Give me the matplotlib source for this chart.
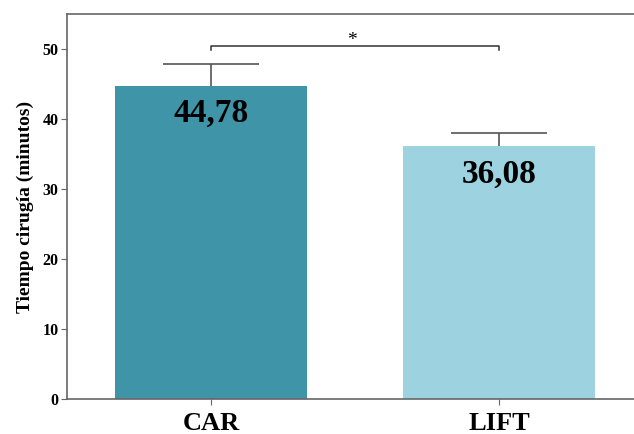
import matplotlib.pyplot as plt

# tiempo quirúrgico medio por técnica
grupos = ["CAR", "LIFT"]
medias = [44.78, 36.08]
errores = [3.08, 1.92]
etiquetas = ["44,78", "36,08"]
colores = ["#3f94a8", "#9dd3e0"]

plt.rcParams["font.family"] = ["Liberation Serif", "DejaVu Serif"]
plt.rcParams["font.weight"] = "bold"

fig = plt.figure(figsize=(6.34, 4.34), dpi=100)
ax = fig.add_axes([0.1057, 0.0806, 0.9085, 0.887])

x = list(range(len(grupos)))
ax.bar(x, medias, width=0.667, color=colores, zorder=2)

# error estándar solo hacia arriba
tops = [m + e for m, e in zip(medias, errores)]
ax.vlines(x, medias, tops, color="#555555", lw=1.2, zorder=1)
for i, t in zip(x, tops):
    ax.hlines(t, i - 0.165, i + 0.165, color="#555555", lw=1.2, zorder=1)

for i, (m, t) in enumerate(zip(medias, etiquetas)):
    ax.text(i, m - 3.9, t, ha="center", va="center", fontsize=24,
            fontweight="bold", color="black", zorder=3)

# barra de significación
ax.plot([0, 0, 1, 1], [49.9, 50.5, 50.5, 49.9], color="#333333", lw=1.1)
ax.text(0.49, 50.0, "*", ha="center", va="bottom", fontsize=14,
        fontweight="normal")

ax.set_xlim(-0.5, 1.5)
ax.set_ylim(0, 55)
ax.set_yticks([0, 10, 20, 30, 40, 50])
ax.set_xticks(x)
ax.set_xticklabels(grupos, fontsize=19, fontweight="bold")
ax.set_ylabel("Tiempo cirugía (minutos)", fontsize=14, fontweight="bold",
              labelpad=6)

for s in ax.spines.values():
    s.set_color("#666666")
    s.set_linewidth(1.2)
ax.spines["right"].set_visible(False)
ax.tick_params(axis="y", length=4, color="#666666", labelsize=11.5, pad=2)
ax.tick_params(axis="x", length=4, color="#666666", pad=5)

fig.savefig("out.png", dpi=100)
